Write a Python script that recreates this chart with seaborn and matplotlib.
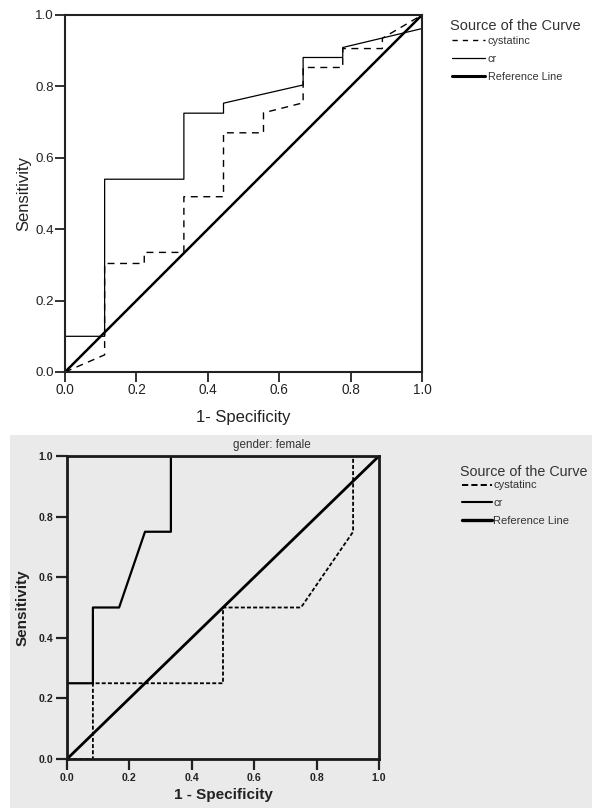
import matplotlib
matplotlib.use("Agg")
import matplotlib.pyplot as plt
import seaborn as sns
import pandas as pd
from matplotlib.patches import Rectangle
from matplotlib.lines import Line2D

sns.set_theme(style="white")
plt.rcParams['font.family'] = ['Liberation Sans', 'DejaVu Sans']

# ---- data: top panel (all) ----
top_cr_x = [0, 0, 0.111, 0.111, 0.333, 0.333, 0.444, 0.444, 0.667, 0.667, 0.778, 0.778, 1.0, 1.0]
top_cr_y = [0, 0.10, 0.10, 0.54, 0.54, 0.725, 0.725, 0.753, 0.804, 0.881, 0.881, 0.909, 0.962, 1.0]
top_cys_x = [0, 0.111, 0.111, 0.222, 0.222, 0.333, 0.333, 0.444, 0.444, 0.556, 0.556, 0.667, 0.667,
             0.778, 0.778, 0.889, 0.889, 1.0]
top_cys_y = [0, 0.048, 0.304, 0.304, 0.335, 0.335, 0.491, 0.491, 0.670, 0.670, 0.726, 0.754, 0.853,
             0.853, 0.906, 0.906, 0.935, 1.0]

# ---- data: bottom panel (gender: female) ----
bot_cr_x = [0, 0, 0.083, 0.083, 0.167, 0.25, 0.333, 0.333, 1.0]
bot_cr_y = [0, 0.25, 0.25, 0.5, 0.5, 0.75, 0.75, 1.0, 1.0]
bot_cys_x = [0, 0.083, 0.083, 0.5, 0.5, 0.75, 0.917, 0.917, 1.0]
bot_cys_y = [0, 0, 0.25, 0.25, 0.5, 0.5, 0.75, 1.0, 1.0]

ref_x = [0, 1]
ref_y = [0, 1]

ticks = [0.0, 0.2, 0.4, 0.6, 0.8, 1.0]
tick_labels = ["0.0", "0.2", "0.4", "0.6", "0.8", "1.0"]
series_labels = ["cystatinc", "cr", "Reference Line"]
legend_title = "Source of the Curve"
bottom_title = "gender: female"

W, H = 592, 808
fig = plt.figure(figsize=(W / 100, H / 100), dpi=100)
fig.patch.set_facecolor("white")

# scanned-paper grey background for the lower chart
fig.patches.append(Rectangle((10 / W, 0), 1 - 10 / W, (H - 435) / H, transform=fig.transFigure,
                             facecolor="#eaeaea", edgecolor="none", zorder=-5))


def px_axes(x0, y0, x1, y1):
    return fig.add_axes([x0 / W, (H - y1) / H, (x1 - x0) / W, (y1 - y0) / H])


def draw(ax, cys_x, cys_y, cr_x, cr_y, dash, lw_cys, lw_cr, lw_ref):
    sns.lineplot(x=cys_x, y=cys_y, sort=False, estimator=None, ax=ax, color="black",
                 linewidth=lw_cys, dashes=False, linestyle=dash)
    sns.lineplot(x=cr_x, y=cr_y, sort=False, estimator=None, ax=ax, color="black",
                 linewidth=lw_cr)
    sns.lineplot(x=ref_x, y=ref_y, sort=False, estimator=None, ax=ax, color="black",
                 linewidth=lw_ref)
    ax.set_xlim(0, 1)
    ax.set_ylim(0, 1)
    ax.set_xticks(ticks)
    ax.set_yticks(ticks)


# ---------- top panel ----------
ax1 = px_axes(65, 15, 422, 372)
ax1.set_facecolor("white")
draw(ax1, top_cys_x, top_cys_y, top_cr_x, top_cr_y, (0, (5, 4)), 1.0, 0.9, 1.8)
ax1.set_xticklabels(tick_labels, fontsize=9.8, color="#333333")
ax1.set_yticklabels(tick_labels, fontsize=9.6, color="#333333")
ax1.tick_params(direction="out", length=7, width=1.3, pad=1, colors="#222222",
                bottom=True, left=True)
for s in ax1.spines.values():
    s.set_linewidth(1.5)
    s.set_color("#222222")
ax1.set_xlabel("1- Specificity", fontsize=12, labelpad=9, color="#222222")
ax1.set_ylabel("Sensitivity", fontsize=12, labelpad=3, color="#222222")

fig.text(450 / W, 1 - 26.5 / H, legend_title, fontsize=10.5, color="#333333",
         ha="left", va="center")
h1 = [Line2D([], [], color="black", lw=1.0, linestyle=(0, (3.8, 3.6))),
      Line2D([], [], color="black", lw=0.9),
      Line2D([], [], color="black", lw=2.2)]
leg1 = fig.legend(h1, series_labels, loc="upper left",
                  bbox_to_anchor=(452 / W, 1 - 36 / H), frameon=False, fontsize=7.8,
                  handlelength=3.0, handletextpad=0.3,
                  labelspacing=0.72, borderpad=0, borderaxespad=0)
for t in leg1.get_texts():
    t.set_color("#333333")

# ---------- bottom panel ----------
ax2 = px_axes(67, 456, 379, 759)
ax2.set_facecolor("none")
ax2.set_zorder(2)
draw(ax2, bot_cys_x, bot_cys_y, bot_cr_x, bot_cr_y, (0, (2.2, 1.2)), 1.3, 1.6, 2.0)
ax2.set_xticklabels(tick_labels, fontsize=7.6, fontweight="bold", color="#333333")
ax2.set_yticklabels(tick_labels, fontsize=7.6, fontweight="bold", color="#333333")
ax2.tick_params(direction="out", length=8, width=1.6, pad=2, colors="#222222",
                bottom=True, left=True)
for s in ax2.spines.values():
    s.set_linewidth(2.0)
    s.set_color("#1a1a1a")
ax2.set_xlabel("1 - Specificity", fontsize=11, fontweight="bold", labelpad=4, color="#222222")
ax2.set_ylabel("Sensitivity", fontsize=11, fontweight="bold", labelpad=6, color="#222222")
ax2.text((272 - 67) / 312, 1.0 + 11 / 303, bottom_title, transform=ax2.transAxes,
         fontsize=8.4, color="#333333", ha="center", va="center")

fig.text(460 / W, 1 - 471.5 / H, legend_title, fontsize=10.3, color="#333333",
         ha="left", va="center")
h2 = [Line2D([], [], color="black", lw=1.4, linestyle=(0, (3.2, 1.6))),
      Line2D([], [], color="black", lw=1.5),
      Line2D([], [], color="black", lw=2.4)]
leg2 = fig.legend(h2, series_labels, loc="upper left",
                  bbox_to_anchor=(462 / W, 1 - 480.5 / H), frameon=False, fontsize=8.0,
                  handlelength=2.7, handletextpad=0.1,
                  labelspacing=0.68, borderpad=0, borderaxespad=0)
for t in leg2.get_texts():
    t.set_color("#333333")

fig.savefig("out.png", dpi=100)
